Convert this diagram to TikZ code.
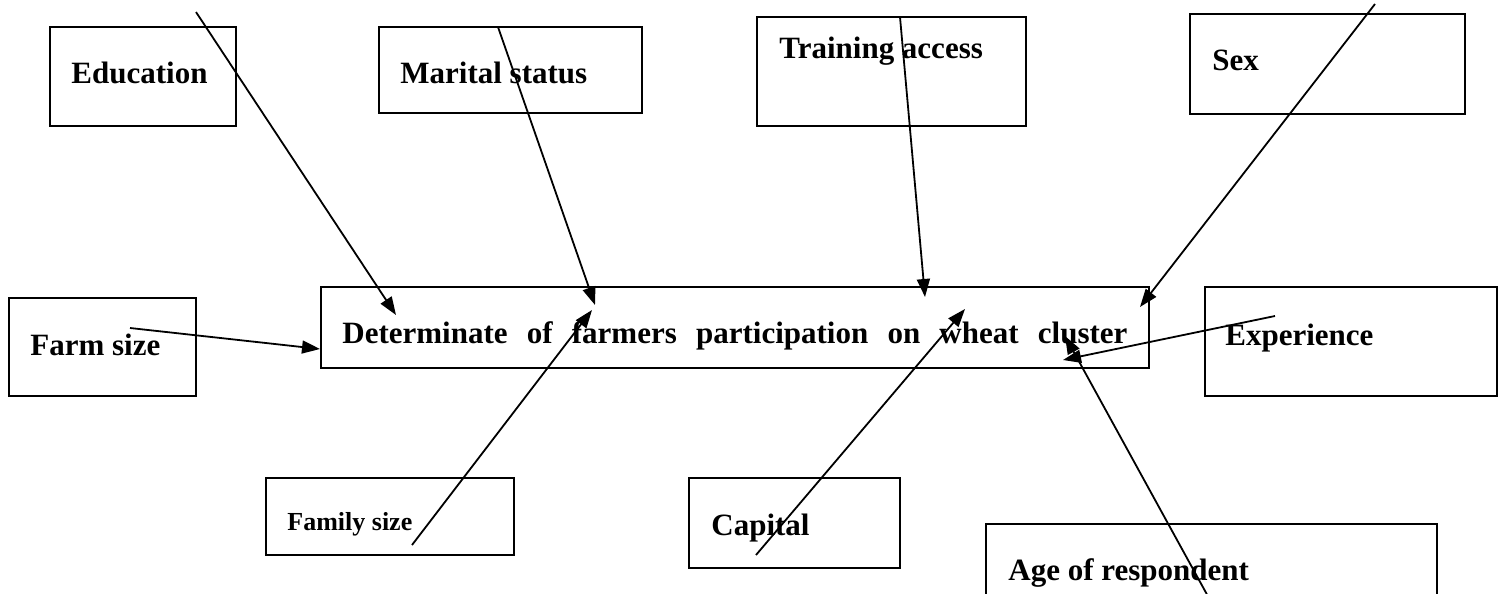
\documentclass[tikz,border=0pt]{standalone}
\usepackage{fontspec}
\setmainfont{Liberation Serif}
\usetikzlibrary{arrows.meta,fit}
\tikzset{
  box/.style={draw, line width=0.9pt, inner sep=0pt},
  lbl/.style={anchor=base west, inner sep=0pt, font=\bfseries\fontsize{15.5}{18}\selectfont},
  arr/.style={-{Triangle[length=9pt,width=6.5pt]}, line width=0.9pt},
}
\begin{document}
\begin{tikzpicture}[x=0.5pt,y=-0.5pt]
    \clip (0,0) rectangle (1499,594);
    \fill[white] (0,0) rectangle (1499,594);

    % boxes
    \node[box, fit={(50,27) (236,126)}] (E) {};
    \node[box, fit={(379,27) (642,113)}] (M) {};
    \node[box, fit={(757,17) (1026,126)}] (T) {};
    \node[box, fit={(1190,14) (1465,114)}] (S) {};
    \node[box, fit={(9,298) (196,396)}] (F) {};
    \node[box, fit={(321,287) (1149,368)}] (D) {};
    \node[box, fit={(1205,287) (1497,396)}] (X) {};
    \node[box, fit={(266,478) (514,555)}] (Fa) {};
    \node[box, fit={(689,478) (900,568)}] (C) {};
    \node[box, fit={(986,524) (1437,610)}] (A) {};

    % labels
    \node[lbl] (Et) at (71,83) {Education};
    \node[lbl] (Mt) at (400,83) {Marital status};
    \node[lbl] (Tt) at (779,58) {Training access};
    \node[lbl] (St) at (1212,70) {Sex};
    \node[lbl] (Ft) at (30,355) {Farm size};
    \node[lbl] (Dt) at (342,343)
      {\makebox[392.5pt][s]{Determinate of farmers participation on wheat cluster}};
    \node[lbl] (Xt) at (1225,345) {Experience};
    \node[lbl, font=\bfseries\fontsize{13}{15}\selectfont] (Fat) at (287,530) {Family size};
    \node[lbl] (Ct) at (711,535) {Capital};
    \node[lbl] (At) at (1008,580) {Age of respondent};

    % arrow ends
    \coordinate (E1) at (196,12);   \coordinate (E2) at (396,315);
    \coordinate (M1) at (498,27);   \coordinate (M2) at (595,305);
    \coordinate (T1) at (900,17);   \coordinate (T2) at (925,297);
    \coordinate (S1) at (1375,4);   \coordinate (S2) at (1140,307);
    \coordinate (F1) at (130,328);  \coordinate (F2) at (320,349);
    \coordinate (X1) at (1275,316); \coordinate (X2) at (1063,360);
    \coordinate (Fa1) at (412,545); \coordinate (Fa2) at (592,310);
    \coordinate (C1) at (756,555);  \coordinate (C2) at (965,309);
    \coordinate (A1) at (1210,600); \coordinate (A2) at (1065,336);

    \draw[arr] (E1) -- (E2);
    \draw[arr] (M1) -- (M2);
    \draw[arr] (T1) -- (T2);
    \draw[arr] (S1) -- (S2);
    \draw[arr] (F1) -- (F2);
    \draw[arr] (X1) -- (X2);
    \draw[arr] (Fa1) -- (Fa2);
    \draw[arr] (C1) -- (C2);
    \draw[arr] (A1) -- (A2);
\end{tikzpicture}
\end{document}
